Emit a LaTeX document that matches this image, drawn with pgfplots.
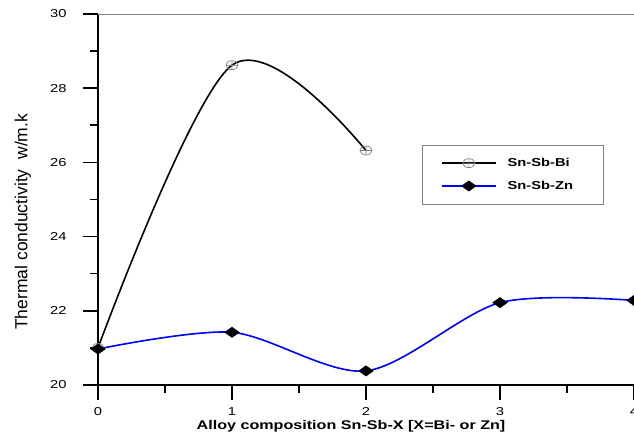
\documentclass[border=0pt]{standalone}
\usepackage{fontspec}
\setmainfont{Liberation Sans}
\newfontfamily\widefont{Liberation Sans}[FakeStretch=1.28]
\usepackage{pgfplots}
\pgfplotsset{compat=1.18}
\begin{document}
\begin{tikzpicture}
\begin{axis}[
  scale only axis, width=536pt, height=371pt,
  xmin=0, xmax=4, ymin=20, ymax=30,
  axis x line*=bottom, axis y line*=left,
  x axis line style={black, line width=1.5pt},
  y axis line style={black, line width=2.4pt},
  xtick={0,1,2,3,4}, ytick={20,22,24,26,28,30},
  minor x tick num=1, minor y tick num=1,
  tick align=outside,
  major tick length=15pt, minor tick length=8pt,
  every tick/.style={black, line width=1.6pt},
  /pgf/number format/assume math mode=true,
  tick label style={font=\widefont\fontsize{11.5}{12}\selectfont},
  xticklabel style={yshift=-6pt, inner ysep=1pt},
  yticklabel style={xshift=-13pt},
  xlabel={Alloy composition Sn-Sb-X [X=Bi- or Zn]},
  ylabel={Thermal conductivity\ \ w/m.k},
  x label style={font=\widefont\bfseries\fontsize{12.6}{14}\selectfont, at={(axis description cs:0.472,-0.112)}, anchor=center, inner sep=0pt},
  y label style={font=\fontsize{17.5}{18}\selectfont, at={(axis description cs:-0.14,0.44)}, anchor=center},
  legend style={at={(0.604,0.647)}, anchor=north west, draw=gray, line width=0.6pt,
    font=\widefont\bfseries\fontsize{11.5}{13}\selectfont, inner xsep=19pt, inner ysep=11pt,
    row sep=9pt, legend cell align=left, nodes={inner xsep=11pt}},
  legend image code/.code={
    \draw[mark repeat=2,mark phase=2,#1] plot coordinates {(0pt,0pt) (27pt,0pt) (54pt,0pt)};
  },
]
\addplot[black, line width=1.6pt, smooth, tension=0.55, mark=oplus,
  mark options={draw=gray, line width=0.7pt, xscale=1.35}, mark size=4.5pt]
  coordinates {(0,21.0) (1,28.62) (2,26.32)};
\addlegendentry{Sn-Sb-Bi}
\addplot[blue, line width=1.6pt, smooth, mark=diamond*,
  mark options={draw=black, fill=black, xscale=1.9}, mark size=4.5pt]
  coordinates {(0,20.97) (1,21.42) (2,20.38) (3,22.22) (4,22.28)};
\addlegendentry{Sn-Sb-Zn}
\draw[gray, line width=0.6pt] (rel axis cs:0,1) -- (rel axis cs:1,1);
\end{axis}
\pgfresetboundingbox
\path ([shift={(-98pt,-48pt)}]current axis.south west) rectangle ([shift={(0pt,14pt)}]current axis.north east);
\end{tikzpicture}
\end{document}
